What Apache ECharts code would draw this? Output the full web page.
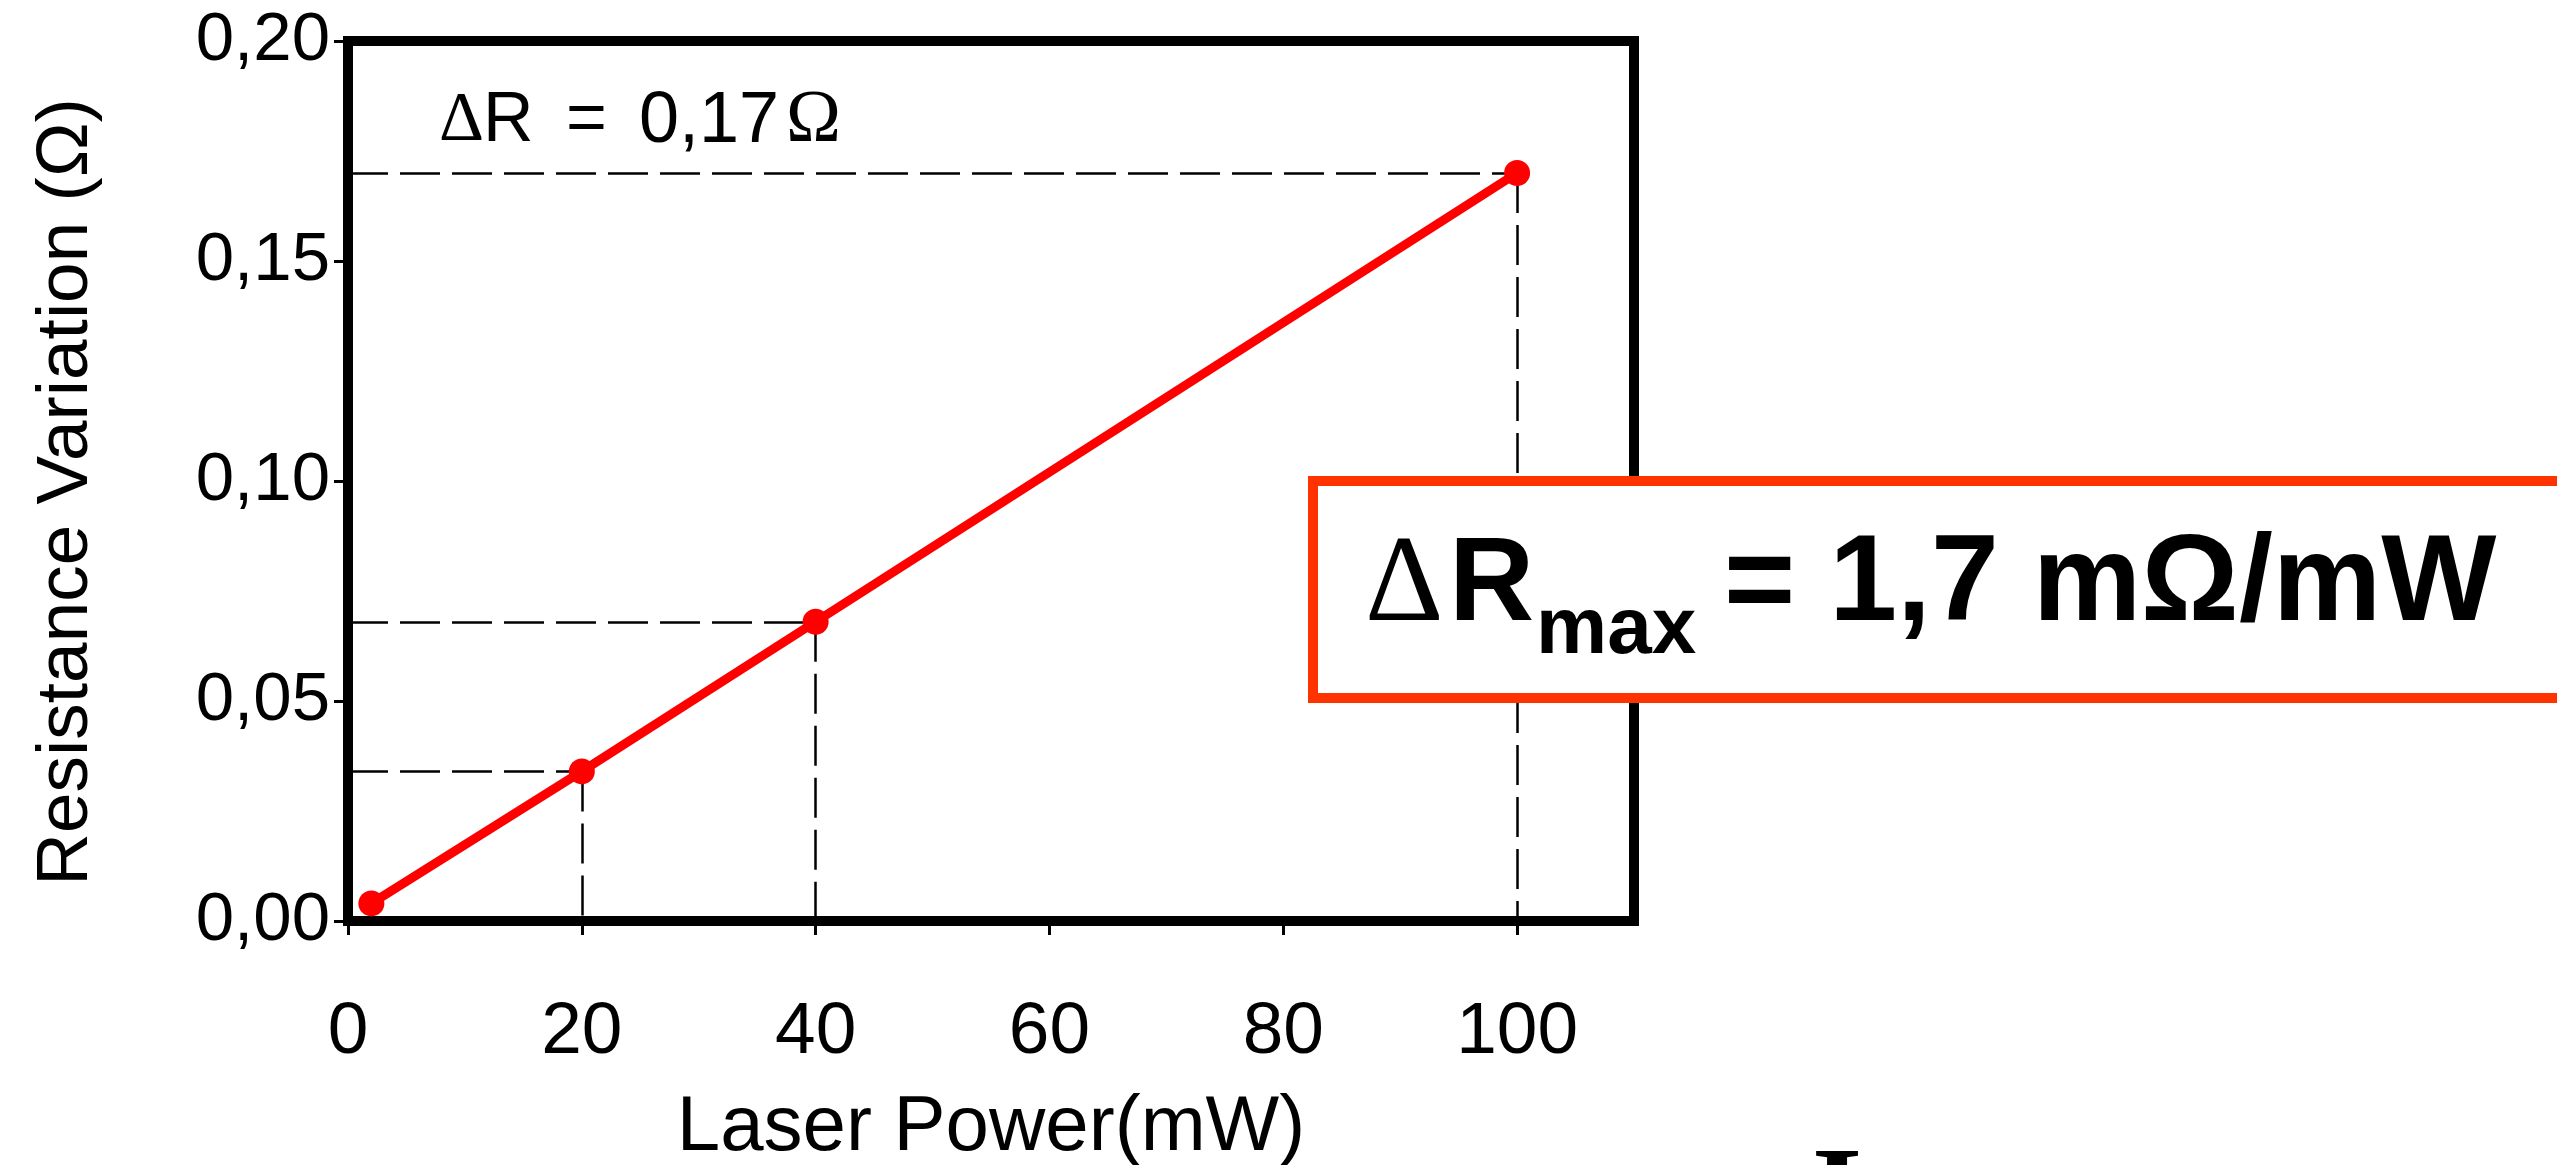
<!DOCTYPE html>
<html>
<head>
    <meta charset="utf-8">
    <title>Laser Power vs Resistance Variation</title>
    <script src="https://cdn.jsdelivr.net/npm/echarts@6/dist/echarts.min.js"></script>
</head>
<body style="margin:0;padding:0;background:#fff;">
<div id="main" style="margin:0px;padding:0px;width:2557px;height:1165px;"></div>
<script type="text/javascript">
    // data
    var laserPower = [2, 20, 40, 100];          // mW
    var resVariation = [0.004, 0.034, 0.068, 0.17]; // ohm
    var guideIdx = [1, 2, 3];                    // points with dashed guides
    var xRange = [0, 110, 20];                   // min, max, interval
    var yRange = [0, 0.20, 0.05];

    var sans = "'Liberation Sans', Arial, sans-serif";
    var serif = "'Liberation Serif', 'Times New Roman', serif";

    var myChart = echarts.init(document.getElementById('main'));

    var seriesData = [];
    for (var i = 0; i < laserPower.length; i++) {
        seriesData.push([laserPower[i], resVariation[i]]);
    }

    // dashed guide lines: from y axis to point, then from point down to x axis
    var guides = [];
    guideIdx.forEach(function (k) {
        var x = laserPower[k], y = resVariation[k];
        guides.push([{coord: [xRange[0], y]}, {coord: [x, y]}]);
        guides.push([{coord: [x, y]}, {coord: [x, yRange[0]]}]);
    });

    // small helper for the free text pieces
    function txt(str, x, y, size, font, weight, align) {
        return {
            type: 'text', z: 110, x: x, y: y, silent: true,
            style: {
                text: str, fill: '#000',
                font: (weight || 'normal') + ' ' + size + 'px ' + font,
                textAlign: align || 'left', textVerticalAlign: 'middle'
            }
        };
    }

    var option = {
        animation: false,
        backgroundColor: '#fff',
        grid: {
            left: 348, right: 923, top: 41, bottom: 244,
            outerBoundsMode: 'none',
            containLabel: false,
            show: true, borderColor: '#000', borderWidth: 10, backgroundColor: '#fff'
        },
        xAxis: {
            type: 'value',
            min: xRange[0], max: xRange[1], interval: xRange[2],
            name: 'Laser Power(mW)',
            nameLocation: 'middle',
            nameGap: 168,
            nameTextStyle: {fontFamily: sans, fontSize: 78, color: '#000'},
            axisLine: {show: true, lineStyle: {color: '#000', width: 10}},
            axisTick: {show: true, inside: false, length: 14, lineStyle: {color: '#000', width: 3}},
            axisLabel: {
                showMaxLabel: false, margin: 75,
                fontFamily: sans, fontSize: 73, color: '#000'
            },
            splitLine: {show: false}
        },
        yAxis: {
            type: 'value',
            min: yRange[0], max: yRange[1], interval: yRange[2],
            name: 'Resistance Variation (Ω)',
            nameLocation: 'middle',
            nameRotate: 90,
            nameGap: 245,
            nameTextStyle: {fontFamily: sans, fontSize: 73, color: '#000', padding: [0, 22, 0, 0]},
            axisLine: {show: true, lineStyle: {color: '#000', width: 10}},
            axisTick: {show: true, inside: false, length: 14, lineStyle: {color: '#000', width: 3}},
            axisLabel: {
                margin: 18, fontFamily: sans, fontSize: 69, color: '#000',
                formatter: function (v) { return v.toFixed(2).replace('.', ','); }
            },
            splitLine: {show: false}
        },
        series: [{
            type: 'line',
            z: 5,
            data: seriesData,
            symbol: 'circle',
            symbolSize: 26,
            lineStyle: {color: '#ff0000', width: 9},
            itemStyle: {color: '#ff0000'},
            markLine: {
                silent: true,
                z: 1,
                symbol: ['none', 'none'],
                label: {show: false},
                lineStyle: {color: '#000', width: 2.5, type: [40, 12]},
                data: guides
            }
        }],
        graphic: [
            // "ΔR = 0,17Ω" annotation
            txt('Δ', 439, 122, 70, serif),
            txt('R', 483, 122, 70, sans),
            txt('=', 566, 122, 70, sans),
            txt('0,17', 639, 122, 72, sans),
            txt('Ω', 786, 122, 74, serif),
            // orange box with the slope
            {
                type: 'rect', z: 100, silent: true,
                shape: {x: 1313, y: 481, width: 1400, height: 217},
                style: {fill: '#fff', stroke: '#ff3300', lineWidth: 10}
            },
            txt('Δ', 1365, 588, 122, serif),
            txt('R', 1449, 587, 118, sans, 'bold'),
            txt('max', 1536, 631, 80, sans, 'bold'),
            txt('= 1,7 mΩ/mW', 1724, 586, 122, sans, 'bold'),
            // top of a cut-off letter at the bottom edge
            txt('I', 1837, 1202, 130, serif, 'bold', 'center')
        ]
    };

    myChart.setOption(option);
</script>
</body>
</html>
